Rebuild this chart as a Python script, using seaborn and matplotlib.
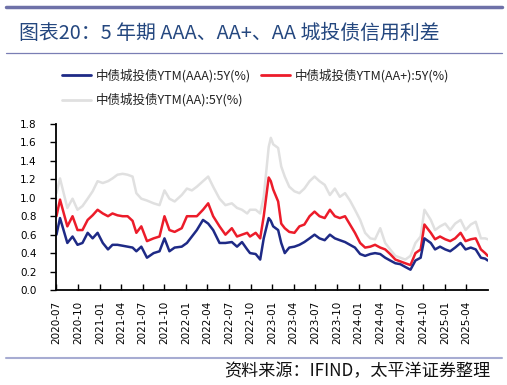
import matplotlib
matplotlib.use("Agg")
import matplotlib.pyplot as plt
from matplotlib.lines import Line2D
import pandas as pd
import seaborn as sns

# ---- data ----
dates = [
    "2020-07-01", "2020-07-16", "2020-08-16", "2020-09-07", "2020-09-28", "2020-10-19",
    "2020-11-10", "2020-12-01", "2020-12-22", "2021-01-13", "2021-02-04", "2021-02-23",
    "2021-03-16", "2021-04-07", "2021-04-28", "2021-05-19", "2021-06-04", "2021-06-25",
    "2021-07-19", "2021-08-16", "2021-09-10", "2021-10-01", "2021-10-22", "2021-11-13",
    "2021-12-13", "2022-01-04", "2022-01-25", "2022-02-15", "2022-03-13", "2022-04-04",
    "2022-04-25", "2022-05-22", "2022-06-16", "2022-07-13", "2022-08-04", "2022-08-25",
    "2022-09-16", "2022-09-28", "2022-10-22", "2022-11-10", "2022-11-25", "2022-12-16",
    "2022-12-25", "2023-01-04", "2023-01-25", "2023-02-07", "2023-02-22", "2023-03-13",
    "2023-04-04", "2023-04-25", "2023-05-16", "2023-06-07", "2023-06-28", "2023-07-19",
    "2023-08-10", "2023-09-01", "2023-09-22", "2023-10-13", "2023-11-04", "2023-11-25",
    "2023-12-16", "2024-01-07", "2024-01-28", "2024-02-19", "2024-03-10", "2024-04-01",
    "2024-04-22", "2024-05-13", "2024-06-04", "2024-06-25", "2024-07-16", "2024-08-07",
    "2024-08-28", "2024-09-19", "2024-10-05", "2024-11-01", "2024-11-19", "2024-12-10",
    "2025-01-01", "2025-01-22", "2025-02-12", "2025-03-07", "2025-03-28", "2025-04-19",
    "2025-05-10", "2025-06-01", "2025-06-19", "2025-06-30",
]

aaa = [
    0.60, 0.78, 0.51, 0.58, 0.49, 0.51,
    0.62, 0.56, 0.62, 0.51, 0.44, 0.49,
    0.49, 0.48, 0.47, 0.46, 0.42, 0.47,
    0.35, 0.40, 0.42, 0.56, 0.42, 0.46,
    0.47, 0.51, 0.58, 0.65, 0.76, 0.72,
    0.65, 0.51, 0.51, 0.52, 0.47, 0.52,
    0.44, 0.40, 0.39, 0.33, 0.56, 0.78,
    0.75, 0.69, 0.65, 0.51, 0.40, 0.46,
    0.47, 0.49, 0.52, 0.56, 0.60, 0.56,
    0.54, 0.60, 0.56, 0.54, 0.52, 0.49,
    0.46, 0.39, 0.37, 0.39, 0.40, 0.39,
    0.35, 0.32, 0.29, 0.28, 0.25, 0.22,
    0.32, 0.35, 0.56, 0.51, 0.44, 0.47,
    0.44, 0.42, 0.46, 0.51, 0.44, 0.46,
    0.44, 0.35, 0.34, 0.32,
]

aa_plus = [
    0.80, 0.98, 0.69, 0.80, 0.65, 0.65,
    0.76, 0.81, 0.87, 0.83, 0.80, 0.83,
    0.81, 0.80, 0.80, 0.75, 0.62, 0.69,
    0.53, 0.56, 0.58, 0.80, 0.65, 0.63,
    0.67, 0.80, 0.80, 0.80, 0.87, 0.94,
    0.80, 0.69, 0.60, 0.67, 0.58, 0.60,
    0.62, 0.58, 0.62, 0.56, 0.80, 1.22,
    1.18, 1.09, 0.96, 0.72, 0.67, 0.63,
    0.62, 0.69, 0.71, 0.80, 0.85, 0.80,
    0.78, 0.87, 0.80, 0.78, 0.80, 0.71,
    0.62, 0.51, 0.46, 0.47, 0.49, 0.46,
    0.44, 0.39, 0.33, 0.31, 0.29, 0.27,
    0.40, 0.44, 0.71, 0.62, 0.55, 0.58,
    0.55, 0.53, 0.56, 0.62, 0.53, 0.55,
    0.56, 0.44, 0.40, 0.37,
]

aa = [
    1.05, 1.21, 0.89, 0.99, 0.87, 0.91,
    0.99, 1.07, 1.18, 1.16, 1.18, 1.21,
    1.25, 1.26, 1.25, 1.23, 1.05, 0.99,
    0.97, 0.94, 0.92, 1.08, 0.99, 0.96,
    1.03, 1.10, 1.08, 1.12, 1.18, 1.23,
    1.12, 0.99, 0.92, 0.94, 0.89, 0.87,
    0.83, 0.87, 0.87, 0.83, 1.01, 1.55,
    1.65, 1.58, 1.54, 1.34, 1.23, 1.12,
    1.07, 1.05, 1.10, 1.18, 1.23, 1.18,
    1.14, 1.03, 1.10, 1.01, 1.05, 0.97,
    0.87, 0.76, 0.62, 0.56, 0.55, 0.67,
    0.51, 0.44, 0.37, 0.35, 0.33, 0.37,
    0.51, 0.58, 0.87, 0.76, 0.65, 0.69,
    0.72, 0.65, 0.72, 0.76, 0.65, 0.71,
    0.74, 0.56, 0.56, 0.55,
]

labels = ["中债城投债YTM(AAA):5Y(%)", "中债城投债YTM(AA+):5Y(%)", "中债城投债YTM(AA):5Y(%)"]
colors = {"AAA": "#1E2A86", "AA+": "#EC1C2A", "AA": "#E0E0E0"}
tick_labels = ["2020-07", "2020-10", "2021-01", "2021-04", "2021-07", "2021-10",
               "2022-01", "2022-04", "2022-07", "2022-10", "2023-01", "2023-04",
               "2023-07", "2023-10", "2024-01", "2024-04", "2024-07", "2024-10",
               "2025-01", "2025-04"]
y_ticks = [0.0, 0.2, 0.4, 0.6, 0.8, 1.0, 1.2, 1.4, 1.6, 1.8]

title = "图表20：5 年期 AAA、AA+、AA 城投债信用利差"
source = "资料来源：IFIND，太平洋证券整理"

# ---- build frame ----
d = pd.to_datetime(dates)
df = pd.DataFrame({"date": d, "AAA": aaa, "AA+": aa_plus, "AA": aa})

sns.set_theme(style="white")
plt.rcParams["font.family"] = ["Noto Sans CJK SC", "DejaVu Sans"]

W, H = 507, 385
fig = plt.figure(figsize=(W / 100, H / 100), dpi=100)
ax = fig.add_axes([56 / W, 1 - 290 / H, (488 - 56) / W, (290 - 124) / H])

handles = {}
for key, lab in [("AA", labels[2]), ("AA+", labels[1]), ("AAA", labels[0])]:
    sns.lineplot(data=df, x="date", y=key, ax=ax, color=colors[key], lw=1.8, label=lab)
    handles[key] = ax.get_lines()[-1]
ax.get_legend().remove()

ax.set_ylim(0, 1.8)
ax.set_xlim(pd.Timestamp("2020-06-29"), pd.Timestamp("2025-07-01"))
ax.set_yticks(y_ticks)
ax.set_yticklabels([f"{v:.1f}" for v in y_ticks], fontsize=7.5, family="DejaVu Sans")
ax.set_xticks(pd.to_datetime([t + "-01" for t in tick_labels]))
ax.set_xticklabels(tick_labels, rotation=90, fontsize=7.5, family="DejaVu Sans")
ax.set_xlabel("")
ax.set_ylabel("")
for s in ["top", "right"]:
    ax.spines[s].set_visible(False)
for s in ["left", "bottom"]:
    ax.spines[s].set_color("black")
    ax.spines[s].set_linewidth(1.3)
ax.tick_params(axis="y", direction="out", length=4, width=1, pad=10, colors="black", left=True)
ax.tick_params(axis="x", direction="in", length=4, width=1, pad=8, colors="black", bottom=True)

leg = fig.legend([handles["AAA"], handles["AA"], handles["AA+"]],
                 [labels[0], labels[2], labels[1]],
                 ncol=2, loc="upper left", bbox_to_anchor=(62 / W, 1 - 69 / H),
                 frameon=False, fontsize=9, handlelength=2.3, handletextpad=0.4,
                 labelspacing=0.85, columnspacing=0.8, borderpad=0, borderaxespad=0)
for t in leg.get_texts():
    t.set_color("#222222")
for l in leg.get_lines():
    l.set_linewidth(2.0)

# decorations
fig.add_artist(Line2D([6 / W, 502 / W], [1 - 6.5 / H, 1 - 6.5 / H], color="#6E71A8", lw=2.5))
fig.add_artist(Line2D([6 / W, 502 / W], [1 - 53 / H, 1 - 53 / H], color="#7A7EB4", lw=0.9))
fig.add_artist(Line2D([6 / W, 502 / W], [1 - 358 / H, 1 - 358 / H], color="#A7ACD2", lw=1.5))

fig.text(19 / W, 1 - 33 / H, title, fontsize=14.3, color="#24477F", va="center", ha="left")
fig.text(490 / W, 1 - 371 / H, source, fontsize=12.3, color="#111111", va="center",
         ha="right", style="italic")

fig.savefig("out.png", dpi=100, facecolor="white")
